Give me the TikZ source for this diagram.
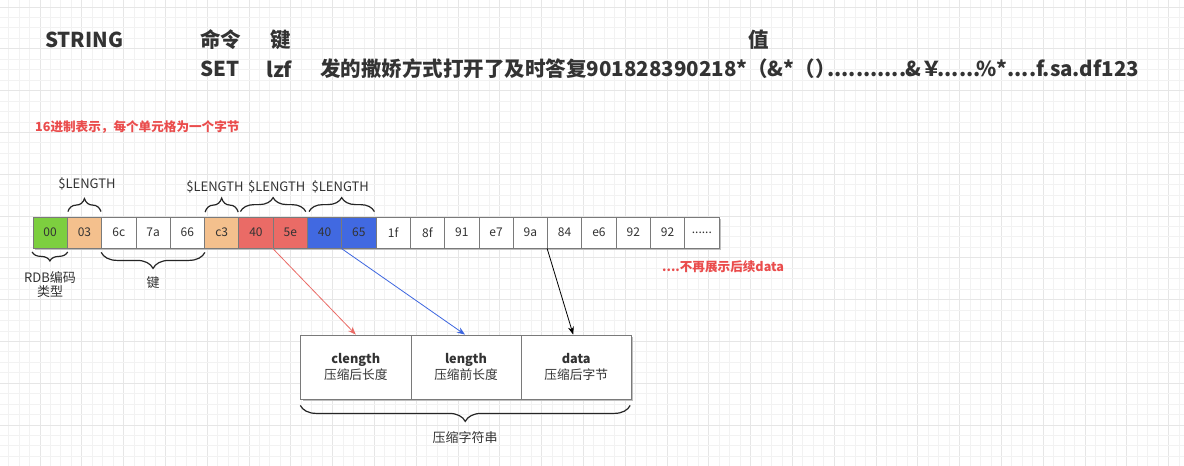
\documentclass[tikz,border=0pt]{standalone}
\usepackage{fontspec}
\setmainfont{Noto Sans CJK SC}
\usetikzlibrary{decorations.pathreplacing,arrows.meta,shadows}
\definecolor{txt}{HTML}{333333}
\definecolor{redtxt}{HTML}{EA4C4C}
\definecolor{gridminor}{HTML}{F2F2F2}
\definecolor{gridmajor}{HTML}{E6E6E6}
\definecolor{cellgreen}{HTML}{7DCF3F}
\definecolor{cellorange}{HTML}{F4C08D}
\definecolor{cellred}{HTML}{EA6B66}
\definecolor{cellblue}{HTML}{4169E1}
\definecolor{cellborder}{HTML}{7A7A7A}
\definecolor{arrred}{HTML}{EA6B66}
\definecolor{arrblue}{HTML}{3D66E0}
\newcommand{\dotstwelve}{\makebox[3.4em]{.\hfill.\hfill.\hfill.\hfill.\hfill.\hfill.\hfill.\hfill.\hfill.\hfill.\hfill.}}
\newcommand{\dotssix}{\makebox[1.7em]{.\hfill.\hfill.\hfill.\hfill.\hfill.}}
\newcommand{\sixdots}{......}
\newcommand{\fsz}[2]{\fontsize{#1}{#2}\selectfont}
\begin{document}
\begin{tikzpicture}[x=1pt,y=-1pt,
  head/.style={inner sep=0pt, anchor=west, font=\fsz{20.5}{20.5}\bfseries, text=txt},
  redlabel/.style={inner sep=0pt, anchor=west, font=\fsz{12.6}{12.6}\bfseries, text=redtxt},
  cell/.style={draw=cellborder, line width=0.8pt, minimum width=34.3pt, minimum height=31pt, inner sep=0pt, font=\fsz{12}{12}, text=txt},
  bbox/.style={draw=cellborder, line width=0.8pt, fill=white, minimum width=110.2pt, minimum height=64pt, inner sep=0pt, align=center, font=\fsz{12.7}{16}, text=txt},
  lbl/.style={inner sep=0pt, font=\fsz{13}{14}, text=txt, align=center},
  brc/.style={draw=black!85, line width=1.2pt, decorate, decoration={brace, amplitude=#1}},
  arr/.style={line width=0.8pt, -{Stealth[length=8pt,width=6pt]}}
]
\useasboundingbox (0,0) rectangle (1184,466);
\fill[white] (0,0) rectangle (1184,466);
% grid
\foreach \k in {-4,...,110} {
  \pgfmathsetmacro{\gx}{40+10.45*\k}
  \pgfmathtruncatemacro{\m}{mod(\k+400,4)}
  \ifnum\m=0 \draw[gridmajor, line width=0.9pt] (\gx,0) -- (\gx,466);
  \else \draw[gridminor, line width=0.9pt] (\gx,0) -- (\gx,466); \fi
}
\foreach \k in {-41,...,4} {
  \pgfmathsetmacro{\gy}{425+10.45*\k}
  \pgfmathtruncatemacro{\m}{mod(\k+400,4)}
  \ifnum\m=0 \draw[gridmajor, line width=0.9pt] (0,\gy) -- (1184,\gy);
  \else \draw[gridminor, line width=0.9pt] (0,\gy) -- (1184,\gy); \fi
}
% header
\node[head] (hstr) at (45,40) {STRING};
\node[head] (hcmd) at (200,40) {命令};
\node[head] (hkey) at (270,40) {键};
\node[head, anchor=center] (hval) at (759,40) {值};
\node[head] (rset) at (200,69) {SET};
\node[head] (rlzf) at (266,69) {lzf};
\node[head] (rval) at (320,69) {发的撒娇方式打开了及时答复901828390218*（\&*（）\dotstwelve\&￥\dotssix\%*....f.sa.df123};
% red notes
\node[redlabel] (note1) at (35,127) {16进制表示，每个单元格为一个字节};
\node[redlabel] (note2) at (662,267) {....不再展示后续data};
% cells
\fill[black!25] (34.5,218.5) rectangle (720.5,249.5);
\foreach \i/\t/\c in {1/00/cellgreen, 2/03/cellorange, 3/6c/white, 4/7a/white, 5/66/white,
  6/c3/cellorange, 7/40/cellred, 8/5e/cellred, 9/40/cellblue, 10/65/cellblue,
  11/1f/white, 12/8f/white, 13/91/white, 14/e7/white, 15/9a/white, 16/84/white,
  17/e6/white, 18/92/white, 19/92/white, 20/\sixdots/white} {
  \node[cell, fill=\c] (c\i) at ({33+34.3*(\i-0.5)},232.5) {\t};
}
% braces above
\draw[brc=13pt] ([shift={(1,-5)}]c2.north west) -- ([shift={(-1,-5)}]c2.north east);
\draw[brc=14pt] ([shift={(1,-4.5)}]c6.north west) -- ([shift={(-1,-4.5)}]c6.north east);
\draw[brc=14pt] ([shift={(2,-5)}]c7.north west) -- ([shift={(-2,-5)}]c8.north east);
\draw[brc=14pt] ([shift={(2,-5)}]c9.north west) -- ([shift={(-2,-5)}]c10.north east);
\node[lbl] (l1) at (87,184) {\$LENGTH};
\node[lbl] (l2) at (215,186.7) {\$LENGTH};
\node[lbl] (l3) at (276.7,186.7) {\$LENGTH};
\node[lbl] (l4) at (340.3,186.7) {\$LENGTH};
% braces below
\draw[brc=9pt] ([shift={(0,3.5)}]c1.south east) -- ([shift={(-0.5,3.5)}]c1.south west);
\draw[brc=16pt] ([shift={(0,4)}]c5.south east) -- ([shift={(0,4)}]c3.south west);
\node[lbl] (rdb) at (50,285) {RDB编码\\类型};
\node[lbl] (keyl) at (153,283) {键};
% bottom boxes
\fill[black!25] (302.5,336.5) rectangle (632.5,400.5);
\node[bbox] (b1) at (355.8,367) {\textbf{clength}\\压缩后长度};
\node[bbox] (b2) at (466,367) {\textbf{length}\\压缩前长度};
\node[bbox] (b3) at (576.2,367) {\textbf{data}\\压缩后字节};
\draw[brc=16pt] ([shift={(-1.5,6)}]b3.south east) -- ([shift={(0,6)}]b1.south west);
\node[lbl] (zip) at (465,438) {压缩字符串};
% arrows
\draw[arr, arrred] (c8.south west) -- (b1.north);
\draw[arr, arrblue] (c10.south west) -- ([xshift=-1pt]b2.north);
\draw[arr, black] (c16.south west) -- ([xshift=-3pt]b3.north);
\end{tikzpicture}
\end{document}
